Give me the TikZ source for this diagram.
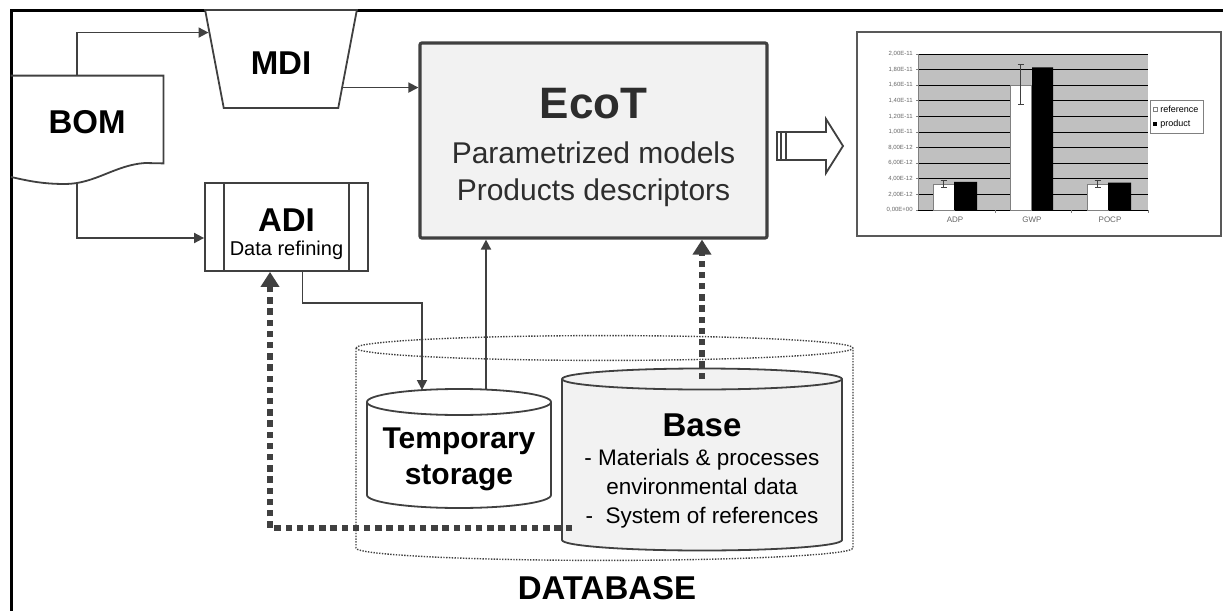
\documentclass[tikz,border=0pt]{standalone}
\usepackage{fontspec}
\setmainfont{Liberation Sans}
\usetikzlibrary{shapes.geometric,calc,arrows.meta}

\definecolor{ink}{HTML}{404040}
\definecolor{shade}{HTML}{F2F2F2}
\definecolor{plotbg}{HTML}{C0C0C0}

\tikzset{
	box/.style={draw=ink,line width=0.9pt,fill=white,inner sep=0pt},
	body/.style={inner sep=0pt,outer sep=0pt},
	big/.style={font=\bfseries\fontsize{16.5}{19}\selectfont},
	flow/.style={draw=ink,line width=0.9pt,->,>={Triangle[length=5pt,width=5pt]}},
	dots/.style={draw=ink,line width=2.9pt,dash pattern=on 3.2pt off 2.4pt,->,>={Triangle[length=7.5pt,width=9pt]}},
}

% cylinder outline round a node: name, x radius, y radius, options
\newcommand{\barrel}[4]{
	\draw[#4] (#1.north west) -- (#1.south west) arc[start angle=180,end angle=360,x radius=#2,y radius=#3] -- (#1.north east) arc[start angle=0,end angle=180,x radius=#2,y radius=#3] -- cycle (#1.north west) arc[start angle=180,end angle=360,x radius=#2,y radius=#3];
}

\begin{document}
\begin{tikzpicture}[x=0.5pt,y=-0.5pt]
	\useasboundingbox (0,0) rectangle (1223,611);
	\draw[line width=1.5pt] (11,611) -- (11,10) -- (1223,10);

	\node[big,minimum width=76pt,minimum height=43.5pt,inner sep=0pt,text height=14.3pt,text depth=0pt] (bom) at (87,119.5) {BOM};
	\draw[ink,line width=0.9pt] (bom.north west) -- (bom.north east) -- (bom.south east) -- (145,163) .. controls (115,165) and (95,184) .. (65,184) .. controls (40,184) and (25,180) .. (11,177);
	\node[box,big,trapezium,trapezium left angle=107.3,trapezium right angle=107.3,trapezium stretches=true,minimum width=76pt,minimum height=49pt,text height=15.8pt,text depth=0pt] (mdi) at (281,59) {MDI};
	\node[box,minimum width=81.5pt,minimum height=44pt] (adi) at (286.5,227) {};
	\node[align=center,font=\fontsize{10}{12}\selectfont] (aditext) at ([yshift=-3.5pt]adi.center) {{\bfseries\fontsize{16.5}{19}\selectfont ADI}\\Data refining};
	\draw[ink,line width=0.9pt] ([xshift=10pt]adi.north west) -- ([xshift=10pt]adi.south west) ([xshift=-10pt]adi.north east) -- ([xshift=-10pt]adi.south east);
	\node[box,fill=shade,line width=1.6pt,rounded corners=1pt,minimum width=173.5pt,minimum height=97.5pt] (ecot) at (593.5,140.5) {};
	\node[align=center,text=ink!70!black,font=\fontsize{15}{18.5}\selectfont] (ecottext) at ([yshift=-3.5pt]ecot.center) {{\bfseries\fontsize{22}{26}\selectfont EcoT}\\[4pt]Parametrized models\\Products descriptors};

	\draw[ink,line width=0.9pt,fill=white] (786,132) -- (826,132) -- (826,119) -- (843,146) -- (826,173) -- (826,160) -- (786,160) -- cycle;
	\draw[ink,line width=0.9pt] (777,132) rectangle (786,160) (781,132) -- (781,160);

	\draw[gray!70!black,line width=1pt,fill=white] (857,32) rectangle (1221,236);
	\begin{scope}[shift={(918,210)},y=3.9pt]
		\fill[plotbg] (0,0) rectangle (230,20);
		\foreach \v/\t in {0/{0,00E+00},2/{2,00E-12},4/{4,00E-12},6/{6,00E-12},8/{8,00E-12},10/{1,00E-11},12/{1,20E-11},14/{1,40E-11},16/{1,60E-11},18/{1,80E-11},20/{2,00E-11}} {
			\draw[line width=0.5pt] (0,\v) -- (230,\v);
			\draw[gray,line width=0.4pt] (-2,\v) -- (0,\v);
			\node[anchor=east,inner sep=0.5pt,font=\fontsize{3}{3.5}\selectfont,text=gray!80!black] (y\v) at (-4,\v) {\t};
		}
		\draw[gray,line width=0.5pt] (0,0) -- (0,20);
		\foreach \x in {77,153,230} \draw[gray,line width=0.4pt] (\x,0) -- (\x,-0.4);
		\draw[gray,fill=white,line width=0.4pt] (15,0) rectangle (36,3.3) (92,0) rectangle (113,16) (169,0) rectangle (190,3.3);
		\fill (36,0) rectangle (59,3.6) (114,0) rectangle (135,18.3) (190,0) rectangle (213,3.5);
		\foreach \x/\a/\b in {25.5/2.9/3.8,102.5/13.5/18.7,179.5/2.9/3.8} \draw[gray!50!black,line width=0.4pt,{Bar[width=3pt]}-{Bar[width=3pt]}] (\x,\a) -- (\x,\b);
		\node[font=\fontsize{4}{5}\selectfont,text=gray!80!black] (adp) at (37,-1.3) {ADP};
		\node[font=\fontsize{4}{5}\selectfont,text=gray!80!black] (gwp) at (114,-1.3) {GWP};
		\node[font=\fontsize{4}{5}\selectfont,text=gray!80!black] (pocp) at (192,-1.3) {POCP};
	\end{scope}
	\draw[gray,fill=white,line width=0.5pt] (1150,100) rectangle (1203,133);
	\draw[gray,fill=white,line width=0.4pt] (1153,107) rectangle (1157,111);
	\fill (1153,122) rectangle (1157,126);
	\node[anchor=west,inner sep=1pt,font=\fontsize{4.5}{5}\selectfont] (lref) at (1158,109) {reference};
	\node[anchor=west,inner sep=1pt,font=\fontsize{4.5}{5}\selectfont] (lprod) at (1158,124) {product};

	\node[body,minimum width=248.5pt,minimum height=100pt] (db) at (604.5,448) {};
	\barrel{db}{124.25pt}{6.2pt}{ink,line width=0.7pt,dash pattern=on 0.7pt off 0.7pt}
	\node[big] (dblabel) at (607,588) {DATABASE};
	\node[body,minimum width=92pt,minimum height=46.5pt] (temp) at (459,448.5) {};
	\barrel{temp}{46pt}{6.5pt}{ink,line width=0.9pt,fill=white}
	\node[align=center,font=\bfseries\fontsize{15}{18}\selectfont] (temptext) at ([yshift=-5.25pt]temp.center) {Temporary\\storage};
	\node[body,minimum width=140pt,minimum height=80.5pt] (base) at (702,459.5) {};
	\barrel{base}{70pt}{5.25pt}{ink,line width=0.9pt,fill=shade}
	\node[align=center,font=\fontsize{11.25}{14.5}\selectfont] (basetext) at ([yshift=-5.75pt]base.center) {{\bfseries\fontsize{16.5}{19}\selectfont Base}\\- Materials \& processes\\environmental data\\-~ System of references};

	\draw[flow] ([xshift=-5pt]bom.north) |- ($(mdi.top left corner)!0.235!(mdi.bottom left corner)$);
	\coordinate (mdiout) at ($(mdi.top right corner)!0.786!(mdi.bottom right corner)$);
	\draw[flow] (mdiout) -- (mdiout -| ecot.west);
	\draw[flow] ([shift={(-5pt,-10pt)}]bom.south) |- ([yshift=-5.5pt]adi.west);
	\draw[flow] ([xshift=8pt]adi.south) -- ++(0,31) -| ([shift={(-18.5pt,6pt)}]temp.north);
	\coordinate (tempout) at ([shift={(13.5pt,6.2pt)}]temp.north);
	\draw[flow] (tempout) -- (tempout |- ecot.south);
	\draw[dots] (base.north) -- (base.north |- ecot.south);
	\draw[dots] ([shift={(5pt,-34.25pt)}]base.west) -| ([xshift=-8.25pt]adi.south);
\end{tikzpicture}
\end{document}
